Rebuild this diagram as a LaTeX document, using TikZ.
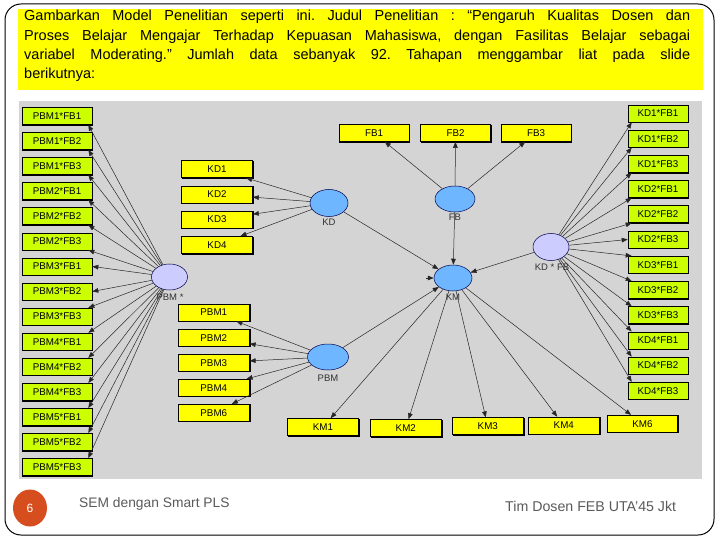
\documentclass[tikz,border=0pt]{standalone}
\usepackage{fontspec}
\setmainfont{Liberation Sans}
\usetikzlibrary{shapes.geometric,arrows.meta}
\definecolor{lime}{RGB}{204,255,0}
\definecolor{yel}{RGB}{255,255,0}
\definecolor{panel}{RGB}{212,212,212}
\definecolor{lvblue}{RGB}{110,182,255}
\definecolor{lvlav}{RGB}{204,204,255}
\definecolor{pgred}{RGB}{214,78,30}
\definecolor{foot}{RGB}{90,90,90}
\frenchspacing
\begin{document}
\begin{tikzpicture}[x=1pt,y=-1pt,
  box/.style={draw=black, line width=0.6pt, minimum height=17pt, inner sep=0pt,
    font=\fontsize{9.8}{11}\selectfont,
    preaction={draw=black,line width=0.9pt,transform canvas={shift={(0.7pt,-0.7pt)}}}},
  limebox/.style={box, fill=lime, minimum width=70pt},
  yelbox/.style={box, fill=yel, minimum width=71pt},
  lat/.style={ellipse, draw=black!70!blue, line width=0.5pt, inner sep=0pt},
  blat/.style={lat, fill=lvblue},
  llat/.style={lat, fill=lvlav},
  elab/.style={font=\fontsize{9.5}{10}\selectfont, text=black!80, inner sep=0pt},
  arr/.style={draw=black!85, line width=0.5pt, -{Triangle[length=6pt,width=4.6pt]}},
  bodytext/.style={anchor=base west, inner sep=0pt, font=\fontsize{14.5}{18}\selectfont}
]
\useasboundingbox (0,0) rectangle (720,540);
\fill[white] (0,0) rectangle (720,540);
% frame
\draw[black, line width=1pt, rounded corners=16pt] (5,4) rectangle (714,535);
% header
\fill[yel] (18,9) rectangle (703,90);
\node[bodytext] (t1) at (24,21) {\makebox[666pt][s]{Gambarkan Model Penelitian seperti ini. Judul Penelitian : “Pengaruh Kualitas Dosen dan}};
\node[bodytext] (t2) at (24,40.3) {\makebox[666pt][s]{Proses Belajar Mengajar Terhadap Kepuasan Mahasiswa, dengan Fasilitas Belajar sebagai}};
\node[bodytext] (t3) at (24,59.7) {\makebox[666pt][s]{variabel Moderating.” Jumlah data sebanyak 92. Tahapan menggambar liat pada slide}};
\node[bodytext] (t4) at (24,79) {berikutnya:};
% panel
\fill[panel] (19,101) rectangle (702,479);
% left boxes
\foreach \t [count=\i] in {PBM1*FB1,PBM1*FB2,PBM1*FB3,PBM2*FB1,PBM2*FB2,PBM2*FB3,PBM3*FB1,PBM3*FB2,PBM3*FB3,PBM4*FB1,PBM4*FB2,PBM4*FB3,PBM5*FB1,PBM5*FB2,PBM5*FB3}
  \node[limebox] (l\i) at (57,{116+25.07*(\i-1)}) {\t};
% right boxes
\foreach \t [count=\i] in {KD1*FB1,KD1*FB2,KD1*FB3,KD2*FB1,KD2*FB2,KD2*FB3,KD3*FB1,KD3*FB2,KD3*FB3,KD4*FB1,KD4*FB2,KD4*FB3}
  \node[limebox, minimum width=60pt] (r\i) at (658,{113.5+25.2*(\i-1)}) {\t};
% indicator boxes
\node[yelbox] (KD1) at (217,169.2) {KD1};
\node[yelbox] (KD2) at (217,194.4) {KD2};
\node[yelbox] (KD3) at (217,219.5) {KD3};
\node[yelbox] (KD4) at (217,244.9) {KD4};
\node[yelbox, minimum width=70pt] (FB1) at (374,133) {FB1};
\node[yelbox, minimum width=70pt] (FB2) at (455.5,133) {FB2};
\node[yelbox, minimum width=70pt] (FB3) at (536,133) {FB3};
\node[yelbox] (PBM1) at (213.8,312.5) {PBM1};
\node[yelbox] (PBM2) at (213.8,337.7) {PBM2};
\node[yelbox] (PBM3) at (213.8,362.7) {PBM3};
\node[yelbox] (PBM4) at (213.8,387.7) {PBM4};
\node[yelbox] (PBM6) at (213.8,412.7) {PBM6};
\node[yelbox] (KM1) at (323,427) {KM1};
\node[yelbox] (KM2) at (405.8,428) {KM2};
\node[yelbox] (KM3) at (487.8,426.2) {KM3};
\node[yelbox] (KM4) at (563.8,425.5) {KM4};
\node[yelbox, minimum width=70pt] (KM6) at (642.5,423.7) {KM6};
% latent variables
\node[blat, minimum width=38pt, minimum height=27pt] (KD) at (329,203) {};
\node[blat, minimum width=40pt, minimum height=26pt] (FB) at (455,199) {};
\node[blat, minimum width=38pt, minimum height=26pt] (KM) at (453,278) {};
\node[blat, minimum width=41pt, minimum height=26pt] (PBM) at (328,357) {};
\node[llat, minimum width=36pt, minimum height=27pt] (KDFB) at (551,247) {};
\node[llat, minimum width=36pt, minimum height=26pt] (PBMs) at (169.5,277) {};
\node[elab] (KDl) at (329,222) {KD};
\node[elab] (FBl) at (455,217.5) {FB};
\node[elab] (KMl) at (453,297) {KM};
\node[elab] (PBMl) at (328,378) {PBM};
\node[elab] (KDFBl) at (552,267) {KD * FB};
\node[elab] (PBMsl) at (170,297) {PBM *};
% arrows
\foreach \n in {KD1,KD2,KD3,KD4} \draw[arr] (KD) -- (\n);
\foreach \n in {FB1,FB2,FB3} \draw[arr] (FB) -- (\n);
\foreach \n in {PBM1,PBM2,PBM3,PBM4,PBM6} \draw[arr] (PBM) -- (\n);
\foreach \n in {KM1,KM2,KM3,KM4,KM6} \draw[arr] (KM) -- (\n);
\draw[arr] (FB) -- (KM);
\draw[arr] (KD) -- (KM);
\draw[arr] (PBM) -- (KM);
\draw[arr] (KDFB) -- (KM);
\coordinate (stub) at (426,278);
\draw[arr] (stub) -- (KM);
\foreach \i in {1,...,6} \draw[arr] (PBMs) -- ([xshift=-4pt]l\i.south east);
\foreach \i in {7,8} \draw[arr] (PBMs) -- (l\i.east);
\foreach \i in {9,...,15} \draw[arr] (PBMs) -- ([xshift=-4pt]l\i.north east);
\foreach \i in {1,...,5} \draw[arr] (KDFB) -- ([xshift=4pt]r\i.south west);
\draw[arr] (KDFB) -- (r6.west);
\foreach \i in {7,...,12} \draw[arr] (KDFB) -- ([xshift=4pt]r\i.north west);
% footer
\node[ellipse, fill=pgred, minimum width=34pt, minimum height=37pt, inner sep=0pt, text=white, font=\fontsize{12}{14}\selectfont] (pg) at (30,508) {6};
\node[anchor=west, inner sep=0pt, text=foot, font=\fontsize{13.8}{16}\selectfont] (f1) at (79,504) {SEM dengan Smart PLS};
\node[anchor=west, inner sep=0pt, text=foot, font=\fontsize{14.2}{16}\selectfont] (f2) at (505,506) {Tim Dosen FEB UTA'45 Jkt};
\end{tikzpicture}
\end{document}
